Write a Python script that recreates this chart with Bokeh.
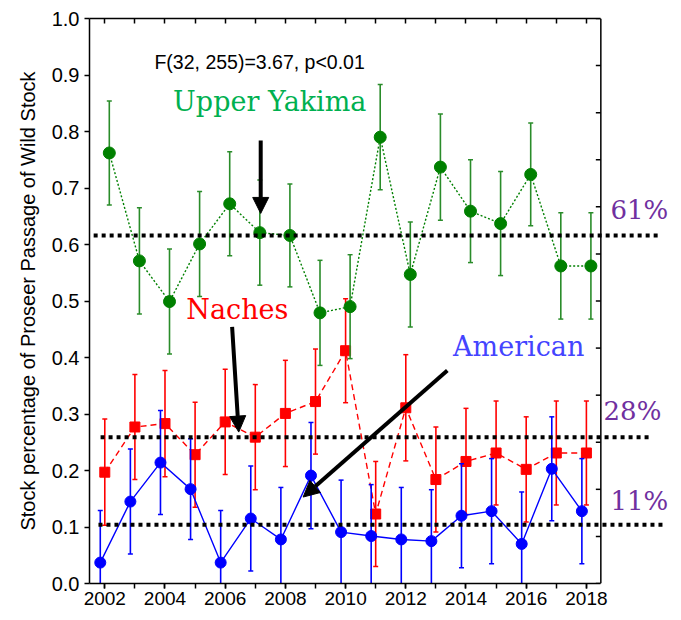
from bokeh.plotting import figure
from bokeh.models import Range1d, LinearAxis, FixedTicker, Label, Arrow, NormalHead, PrintfTickFormatter
from bokeh.embed import file_html
from bokeh.resources import INLINE

# ---------------- data ----------------
years = list(range(2002, 2019))
label_years = [y for y in years if y % 2 == 0]

yakima = [0.762, 0.571, 0.499, 0.601, 0.672, 0.621, 0.616, 0.479, 0.490,
          0.790, 0.547, 0.737, 0.659, 0.637, 0.724, 0.562, 0.562]
yakima_err = [0.092, 0.094, 0.093, 0.093, 0.092, 0.093, 0.091, 0.093, 0.092,
              0.093, 0.093, 0.094, 0.091, 0.092, 0.091, 0.094, 0.094]

naches = [0.197, 0.277, 0.283, 0.228, 0.286, 0.259, 0.301, 0.322, 0.412,
          0.123, 0.311, 0.184, 0.216, 0.231, 0.202, 0.231, 0.231]
naches_err = [0.094, 0.093, 0.094, 0.093, 0.093, 0.093, 0.094, 0.093, 0.092,
              0.093, 0.094, 0.093, 0.094, 0.092, 0.093, 0.092, 0.092]

american = [0.037, 0.145, 0.214, 0.167, 0.037, 0.115, 0.078, 0.191, 0.091,
            0.084, 0.078, 0.075, 0.120, 0.128, 0.070, 0.203, 0.128]
american_err = [0.092, 0.093, 0.092, 0.089, 0.092, 0.093, 0.092, 0.094, 0.092,
                0.091, 0.092, 0.091, 0.092, 0.093, 0.092, 0.092, 0.093]

ref_values = [0.616, 0.259, 0.104]
ref_labels = ["61%", "28%", "11%"]
ref_x_start = [2001.63, 2001.86, 2001.79]
ref_x_end = [2020.40, 2020.13, 2020.56]
ref_label_pos = [(2018.80, 0.635), (2018.57, 0.278), (2018.80, 0.120)]

stat_text = "F(32, 255)=3.67, p<0.01"
series_names = ["Upper Yakima", "Naches", "American"]
series_label_pos = [(2004.27, 0.826), (2004.71, 0.457), (2013.57, 0.392)]
arrow_pos = [  # (x_start, y_start, x_end, y_end)
    (2007.18, 0.784, 2007.18, 0.655),
    (2006.23, 0.454, 2006.45, 0.268),
    (2013.38, 0.377, 2008.59, 0.153),
]

y_ticks = [i / 10 for i in range(11)]
right_ticks = [i / 12 for i in range(13)]
XMIN, XMAX = 2001.49, 2018.48

GREEN, RED, BLUE = "#008000", "#ff0000", "#0000ff"
GREEN_BAR = "#2a8c2a"
TXT_GREEN, TXT_BLUE, PURPLE = "#00b050", "#4444ff", "#7030a0"

# ---------------- figure ----------------
p = figure(width=673, height=612, x_range=Range1d(2001.492, 2020.894), y_range=Range1d(0, 1),
           output_backend="svg", toolbar_location=None,
           min_border_left=89, min_border_right=0, min_border_top=18, min_border_bottom=29)
p.grid.visible = False
p.outline_line_color = None
p.background_fill_color = "white"
p.border_fill_color = "white"

# left axis
ya = p.yaxis[0]
ya.ticker = FixedTicker(ticks=y_ticks)
ya.formatter = PrintfTickFormatter(format="%.1f")
ya.major_tick_out = 5
ya.major_tick_in = 0
ya.minor_tick_line_color = None
ya.axis_line_width = 1.5
ya.major_tick_line_width = 1.5
ya.major_label_text_font = "Liberation Sans"
ya.major_label_text_font_size = "20px"
ya.major_label_text_color = "black"
ya.axis_label = "Stock percentage of Proseer Passage of Wild Stock"
ya.axis_label_text_font = "Liberation Sans"
ya.axis_label_text_font_size = "20px"
ya.axis_label_text_font_style = "normal"
ya.axis_label_text_color = "black"
ya.axis_label_standoff = 10

# bottom axis: labelled ticks at even years, unlabelled ticks at odd years
xa = p.xaxis[0]
xa.ticker = FixedTicker(ticks=label_years, minor_ticks=years)
xa.bounds = (XMIN, XMAX)
xa.major_tick_out = 5
xa.major_tick_in = 0
xa.minor_tick_out = 5
xa.minor_tick_in = 0
xa.axis_line_width = 1.5
xa.major_tick_line_width = 1.5
xa.minor_tick_line_width = 1.5
xa.minor_tick_line_color = "black"
xa.major_label_text_font = "Liberation Sans"
xa.major_label_text_font_size = "19px"
xa.major_label_text_color = "black"
xa.major_label_standoff = 3

# top axis (ticks inward, no labels)
ta = LinearAxis(ticker=FixedTicker(ticks=[], minor_ticks=years), bounds=(XMIN, XMAX),
                major_tick_in=0, major_tick_out=0, minor_tick_in=5, minor_tick_out=0,
                minor_tick_line_width=1.5, minor_tick_line_color="black",
                axis_line_width=1.5, major_label_standoff=0)
p.add_layout(ta, "above")

# right axis drawn at the data edge (ticks inward)
p.segment(x0=[XMAX], y0=[0], x1=[XMAX], y1=[1], line_color="black", line_width=1.5)
tick_len = 5 / 30.1
p.segment(x0=[XMAX - tick_len] * len(right_ticks), y0=right_ticks,
          x1=[XMAX] * len(right_ticks), y1=right_ticks, line_color="black", line_width=1.5)

# ---------------- series ----------------
def draw(vals, errs, offset, color, bar_color, line_dash, marker, msize):
    xs = [y + offset for y in years]
    lo = [v - e for v, e in zip(vals, errs)]
    hi = [v + e for v, e in zip(vals, errs)]
    p.line(xs, vals, line_color=color, line_width=1.4, line_dash=line_dash)
    p.segment(x0=xs, y0=lo, x1=xs, y1=hi, line_color=bar_color, line_width=1.6)
    p.scatter(xs, hi, marker="dash", size=5, line_color=bar_color, line_width=1.5)
    p.scatter(xs, lo, marker="dash", size=5, line_color=bar_color, line_width=1.5)
    p.scatter(xs, vals, marker=marker, size=msize, fill_color=color, line_color=color)

draw(naches, naches_err, 0.0, RED, RED, "6 4", "square", 10)
draw(american, american_err, -0.15, BLUE, BLUE, "solid", "circle", 11)
draw(yakima, yakima_err, 0.15, GREEN, GREEN_BAR, "2 2", "circle", 12)

# reference lines
p.segment(x0=ref_x_start, y0=ref_values, x1=ref_x_end, y1=ref_values,
          line_color="black", line_width=4, line_dash="4 4")

# ---------------- annotations ----------------
p.add_layout(Label(x=2003.65, y=0.904, text=stat_text, text_font="Liberation Sans",
                   text_font_size="19.5px", text_color="black"))

for name, (lx, ly), col in zip(series_names, series_label_pos, [TXT_GREEN, RED, TXT_BLUE]):
    p.add_layout(Label(x=lx, y=ly, text=name, text_font="DejaVu Serif",
                       text_font_size="27px", text_color=col))

for lab, (lx, ly) in zip(ref_labels, ref_label_pos):
    p.add_layout(Label(x=lx, y=ly, text=lab, text_font="DejaVu Serif",
                       text_font_size="26px", text_color=PURPLE))

for (x0, y0, x1, y1) in arrow_pos:
    p.add_layout(Arrow(end=NormalHead(size=16, fill_color="black", line_color="black"),
                       x_start=x0, y_start=y0, x_end=x1, y_end=y1,
                       line_color="black", line_width=4))

open("out.html", "w").write(file_html(p, INLINE))
